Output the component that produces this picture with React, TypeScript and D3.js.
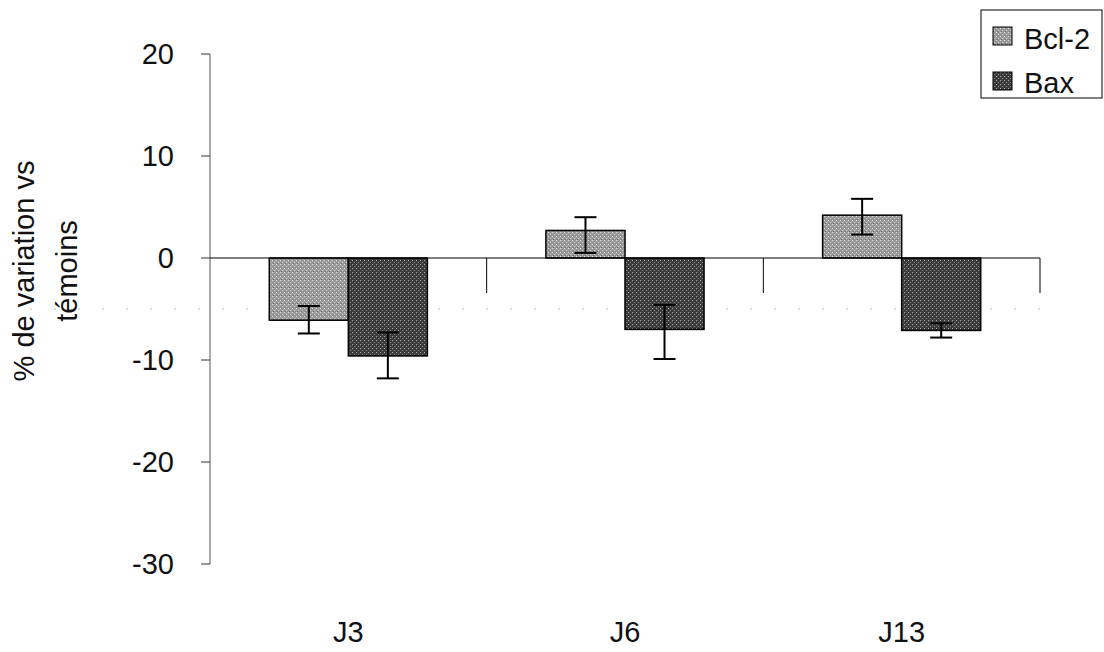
import React from "react";
import * as d3 from "d3";

const categories = ["J3", "J6", "J13"];
const series = ["Bcl-2", "Bax"];
const bcl2 = [-6.1, 2.7, 4.2];
const bax = [-9.6, -7.0, -7.1];
const bcl2ErrUp = [1.4, 1.3, 1.6];
const bcl2ErrDown = [1.3, 2.2, 1.9];
const baxErrUp = [2.3, 2.4, 0.7];
const baxErrDown = [2.2, 2.9, 0.7];
const yTicks = [20, 10, 0, -10, -20, -30];

const W = 1104;
const H = 652;
const left = 210;
const right = 1040;
const top = 54;
const bottom = 564;

export default function App() {
  const y = d3.scaleLinear().domain([-30, 20]).range([bottom, top]);
  const x0 = d3.scaleBand().domain(categories).range([left, right]).paddingInner(0).paddingOuter(0);
  const groupW = x0.bandwidth() / 3.5 * 2;
  const x1 = d3.scaleBand().domain(series).range([0, groupW]).padding(0);
  const vals = [bcl2, bax];
  const ups = [bcl2ErrUp, baxErrUp];
  const downs = [bcl2ErrDown, baxErrDown];
  const fills = ["url(#patBcl)", "url(#patBax)"];
  const font = "'Liberation Sans', Arial, sans-serif";
  const y0 = y(0);
  const legend = [
    { name: series[0], fill: fills[0] },
    { name: series[1], fill: fills[1] },
  ];
  return (
    <svg width={W} height={H} style={{ position: "absolute", left: 0, top: 0, background: "#fff" }}>
      <defs>
        <pattern id="patBcl" width="4" height="4" patternUnits="userSpaceOnUse">
          <rect width="4" height="4" fill="#9a9a9a" />
          <rect x="0" y="0" width="1" height="1" fill="#e0e0e0" />
          <rect x="2" y="2" width="1" height="1" fill="#d0d0d0" />
          <rect x="1" y="3" width="1" height="1" fill="#707070" />
        </pattern>
        <pattern id="patBax" width="4" height="4" patternUnits="userSpaceOnUse">
          <rect width="4" height="4" fill="#3c3c3c" />
          <rect x="0" y="0" width="1" height="1" fill="#b0b0b0" />
          <rect x="2" y="2" width="1" height="1" fill="#8a8a8a" />
        </pattern>
      </defs>
      {/* faint dotted line at -5 (scan artifact) */}
      <line x1={30} x2={1060} y1={y(-5)} y2={y(-5)} stroke="#bbb" strokeWidth={1} strokeDasharray="2 22" />
      {/* y axis */}
      <line x1={left} x2={left} y1={top} y2={bottom} stroke="#555" strokeWidth={1} />
      {yTicks.map((t) => (
        <g key={t}>
          <line x1={left - 9} x2={left} y1={y(t)} y2={y(t)} stroke="#333" strokeWidth={1} />
          <text x={174} y={y(t)} dy="0.36em" textAnchor="end" fontFamily={font} fontSize={29} fill="#111">
            {t}
          </text>
        </g>
      ))}
      {/* bars */}
      {categories.map((c, i) => {
        const gx = (x0(c) as number) + (x0.bandwidth() - groupW) / 2;
        return (
          <g key={c}>
            {series.map((s, k) => {
              const v = vals[k][i];
              const bx = gx + (x1(s) as number);
              return (
                <rect
                  key={s}
                  x={bx}
                  y={Math.min(y(v), y0)}
                  width={x1.bandwidth()}
                  height={Math.abs(y(v) - y0)}
                  fill={fills[k]}
                  stroke="#000"
                  strokeWidth={1.5}
                />
              );
            })}
          </g>
        );
      })}
      {/* zero line and category ticks */}
      <line x1={left} x2={right} y1={y0} y2={y0} stroke="#000" strokeWidth={1.2} />
      {categories.map((c) => (
        <line key={c} x1={(x0(c) as number) + x0.bandwidth()} x2={(x0(c) as number) + x0.bandwidth()} y1={y0} y2={y0 + 35} stroke="#000" strokeWidth={1} />
      ))}
      {/* error bars */}
      {categories.map((c, i) => {
        const gx = (x0(c) as number) + (x0.bandwidth() - groupW) / 2;
        return series.map((s, k) => {
          const v = vals[k][i];
          const cx = gx + (x1(s) as number) + x1.bandwidth() / 2;
          const hi = y(v + ups[k][i]);
          const lo = y(v - downs[k][i]);
          return (
            <g key={c + s} stroke="#000" strokeWidth={2}>
              <line x1={cx} x2={cx} y1={hi} y2={lo} />
              <line x1={cx - 11} x2={cx + 11} y1={hi} y2={hi} />
              <line x1={cx - 11} x2={cx + 11} y1={lo} y2={lo} />
            </g>
          );
        });
      })}
      {/* category labels */}
      {categories.map((c) => (
        <text key={c} x={(x0(c) as number) + x0.bandwidth() / 2} y={632} dy="0.36em" textAnchor="middle" fontFamily={font} fontSize={29} fill="#111">
          {c}
        </text>
      ))}
      {/* y title */}
      <text transform={`translate(24,271) rotate(-90)`} textAnchor="middle" dy="0.36em" fontFamily={font} fontSize={29} fill="#111">
        % de variation vs
      </text>
      <text transform={`translate(67,271) rotate(-90)`} textAnchor="middle" dy="0.36em" fontFamily={font} fontSize={29} fill="#111">
        témoins
      </text>
      {/* legend */}
      <rect x={981} y={10} width={121} height={88} fill="#fff" stroke="#000" strokeWidth={1} />
      {legend.map((l, i) => (
        <g key={l.name}>
          <rect x={993} y={27 + i * 45} width={19} height={18} fill={l.fill} stroke="#000" strokeWidth={1} />
          <text x={1024} y={39 + i * 44} dy="0.36em" fontFamily={font} fontSize={29} fill="#111">
            {l.name}
          </text>
        </g>
      ))}
    </svg>
  );
}
